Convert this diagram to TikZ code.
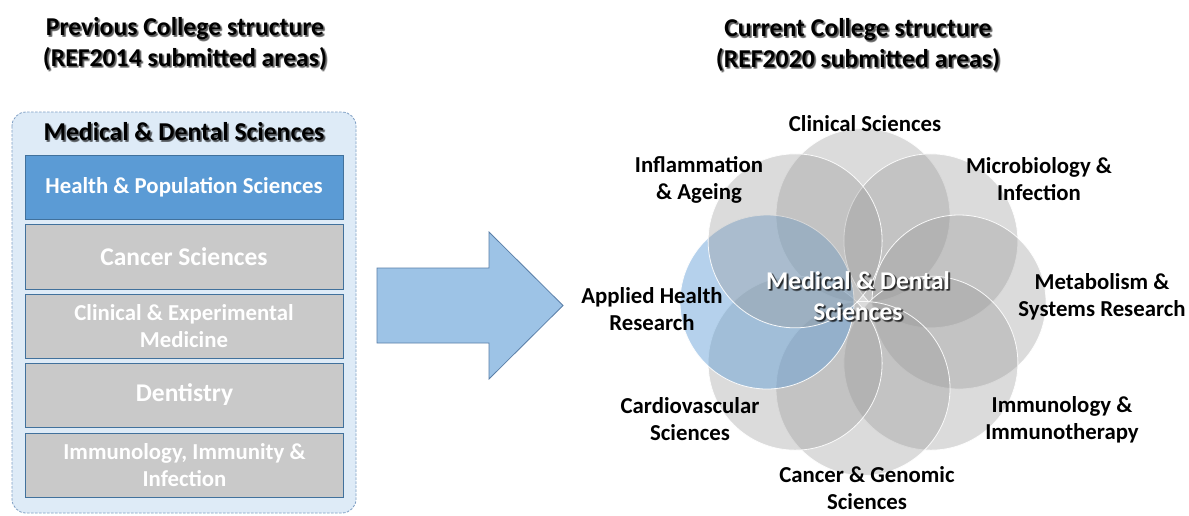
\documentclass[tikz,border=0pt]{standalone}
\usepackage{fontspec}
\setmainfont{Carlito}
\usetikzlibrary{calc}
\definecolor{panelfill}{HTML}{DEEBF7}
\definecolor{paneledge}{HTML}{7F9FC4}
\definecolor{boxedge}{HTML}{41719C}
\definecolor{hpblue}{HTML}{5B9BD5}
\definecolor{boxgray}{HTML}{C9C9C9}
\definecolor{arrowfill}{HTML}{9DC3E6}
\definecolor{arrowedge}{HTML}{5A7FA8}
\definecolor{petalgray}{HTML}{969696}
\definecolor{petalblue}{HTML}{5B9BD5}

% text with a soft dark shadow behind it
\newcommand\softshadow[4]{%
  \foreach \sx/\sy in {1.5/1.5,2/2,1/2,2/1}
    \node[#3, text=black, opacity=0.22] at ($(#2)+(\sx,\sy)$) {#4};
  \node[#3] (#1) at (#2) {#4};}

\begin{document}
\begin{tikzpicture}[x=1pt,y=-1pt,
  heading/.style={font=\bfseries\fontsize{25.7}{30.5}\selectfont, align=center, text=black, inner sep=0pt},
  panel/.style={draw=paneledge, fill=panelfill, line width=0.8pt, dash pattern=on 2.5pt off 1.5pt, rounded corners=14pt},
  unitbox/.style={draw=boxedge, line width=1pt, fill=boxgray, minimum width=318pt, text=white, align=center, inner sep=0pt},
  unitsmall/.style={font=\bfseries\fontsize{22.8}{27}\selectfont},
  unitbig/.style={font=\bfseries\fontsize{25.5}{27}\selectfont},
  bigarrow/.style={draw=arrowedge, fill=arrowfill, line width=0.8pt},
  petal/.style={fill=petalgray, fill opacity=0.34, draw=white, draw opacity=0.9, line width=0.8pt},
  bluepetal/.style={fill=petalblue, fill opacity=0.45, draw=white, draw opacity=0.9, line width=0.8pt},
  petallabel/.style={font=\bfseries\fontsize{22.8}{27}\selectfont, align=center, text=black, inner sep=0pt},
  hubtext/.style={font=\bfseries\fontsize{25.5}{31}\selectfont, align=center, text=white, inner sep=0pt}]
\useasboundingbox (0,0) rectangle (1189,515);
\fill[white] (0,0) rectangle (1189,515);

% ---------- left: previous structure ----------
\softshadow{prevtitle}{185,44}{heading}{Previous College structure\\(REF2014 submitted areas)}

\path[panel] (12,112) rectangle (356,513);
\softshadow{mdstitle}{184,132}{heading}{Medical \& Dental Sciences}

\node[unitbox, fill=hpblue, minimum height=64pt, unitsmall] (hps) at (184,187) {Health \& Population Sciences};
\node[unitbox, minimum height=65pt, unitbig] (cs) at (184,256.5) {Cancer Sciences};
\node[unitbox, minimum height=64pt, unitsmall] (cem) at (184,326) {Clinical \& Experimental\\Medicine};
\node[unitbox, minimum height=64pt, unitbig] (dent) at (184.5,395) {Dentistry};
\node[unitbox, minimum height=64pt, unitsmall] (iii) at (184.5,465) {Immunology, Immunity \&\\Infection};

% ---------- block arrow ----------
\path[bigarrow] (377,268) -- (489,268) -- (489,232) -- (563,305.5) -- (489,379) -- (489,343) -- (377,343) -- cycle;

% ---------- right: current structure ----------
\softshadow{curtitle}{858,45}{heading}{Current College structure\\(REF2020 submitted areas)}

\coordinate (hub) at (863,302);
\foreach \ang/\nm in {90/clin,45/micro,0/metab,-45/immu,-90/canc,-135/cardio} {
  \path[petal] ($(hub)+({96*cos(\ang)},{-86.5*sin(\ang)})$) coordinate (\nm) circle[radius=87pt];
}
\path[bluepetal] ($(hub)+(-96,0)$) coordinate (appl) circle[radius=87pt];
\path[petal] ($(hub)+({96*cos(135)},{-86.5*sin(135)})$) coordinate (infl) circle[radius=87pt];

\foreach \sx/\sy in {1.5/1.5,2/2,1/2,2/1}
  \node[hubtext, text=black, opacity=0.3] at ($(858,296)+(\sx,\sy)$) {Medical \& Dental\\Sciences};
\node[hubtext] (hubname) at (858,296) {Medical \& Dental\\Sciences};

\node[petallabel] (lclin) at (865,124) {Clinical Sciences};
\node[petallabel] (linfl) at (699,179.5) {Inflammation\\\& Ageing};
\node[petallabel] (lmicro) at (1039,179.5) {Microbiology \&\\Infection};
\node[petallabel] (lmetab) at (1102,297) {Metabolism \&\\Systems Research};
\node[petallabel] (lappl) at (652,309.5) {Applied Health\\Research};
\node[petallabel] (lcardio) at (690,419.5) {Cardiovascular\\Sciences};
\node[petallabel] (limmu) at (1062,419.5) {Immunology \&\\Immunotherapy};
\node[petallabel] (lcanc) at (867,488) {Cancer \& Genomic\\Sciences};
\end{tikzpicture}
\end{document}
